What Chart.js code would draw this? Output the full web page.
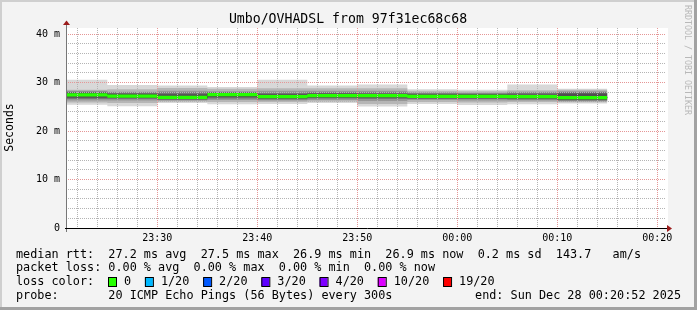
<!DOCTYPE html>
<html lang="en">
<head>
<meta charset="UTF-8">
<title>Umbo/OVHADSL from 97f31ec68c68</title>
<script src="https://cdn.jsdelivr.net/npm/chart.js@4.4.1/dist/chart.umd.min.js"></script>
<style>
    html, body { margin: 0; padding: 0; background: #f3f3f3; }
    #wrap { width: 697px; height: 310px; }
</style>
</head>
<body>
<div id="wrap"><canvas id="smokeChart" width="697" height="310"></canvas></div>
<script>
// start of each 5 minute step
const slots = ['23:20', '23:25', '23:30', '23:35', '23:40', '23:45', '23:50', '23:55', '00:00', '00:05', '00:10'];
// median rtt per step (ms)
const median = [27.45, 27.2, 26.95, 27.5, 27.1, 27.3, 27.3, 27.15, 27.15, 27.1, 26.9];
// smoke bands, outermost (min/max ping) to innermost (ms)
const band1Lo = [25.4, 25.1, 25.8, 25.5, 25.6, 25.8, 25.05, 25.6, 25.35, 25.5, 25.7];
const band1Hi = [30.6, 29.5, 29.4, 29.1, 30.6, 29.4, 29.6, 28.6, 28.5, 29.6, 28.7];
const band2Lo = [25.9, 25.8, 26.1, 26.0, 26.0, 26.1, 25.6, 26.0, 25.9, 26.0, 25.95];
const band2Hi = [28.5, 28.6, 28.9, 28.7, 28.8, 28.8, 28.8, 28.3, 28.2, 28.4, 28.5];
const band3Lo = [26.3, 26.3, 26.3, 26.4, 26.3, 26.4, 26.2, 26.4, 26.3, 26.3, 26.1];
const band3Hi = [28.3, 28.1, 28.3, 28.2, 28.3, 28.3, 28.3, 28.0, 27.9, 28.1, 28.2];
const band4Lo = [26.6, 26.6, 26.45, 26.7, 26.5, 26.7, 26.6, 26.6, 26.6, 26.5, 26.3];
const band4Hi = [28.1, 27.95, 28.0, 28.05, 27.9, 28.0, 28.0, 27.8, 27.75, 27.9, 28.05];
const band5Lo = [26.85, 26.8, 26.55, 26.95, 26.7, 26.85, 26.85, 26.75, 26.75, 26.7, 26.45];
const band5Hi = [27.95, 27.7, 27.6, 27.9, 27.6, 27.75, 27.7, 27.6, 27.6, 27.55, 27.75];

const xTickLabels = ['23:30', '23:40', '23:50', '00:00', '00:10', '00:20'];
const yTickValues = [0, 10, 20, 30, 40];
const yTickLabels = ['0', '10 m', '20 m', '30 m', '40 m'];

const lossLabels = ['0', '1/20', '2/20', '3/20', '4/20', '10/20', '19/20'];
const lossColors = ['#26ff00', '#00b8ff', '#0059ff', '#5e00ff', '#7e00ff', '#dd00ff', '#ff0000'];

const STEP_MIN = 5;
const END_TIME = '00:20:52';
const SPAN_MIN = 60;
const Y_MAX = 41.25;
const MEDIAN_HALF = 0.34;   // half thickness of the green median band (ms)
const FONT = '"DejaVu Sans Mono", monospace';
const MAJOR_GRID = '#e59696';
const MINOR_GRID = '#b4b4b4';

// minutes after 23:00
function toMin(t) {
    const p = t.split(':').map(Number);
    let h = p[0];
    if (h < 12) h += 24;
    return (h - 23) * 60 + p[1] + (p[2] || 0) / 60;
}

const xs = slots.map(toMin);
const xMax = toMin(END_TIME);
const xMin = xMax - SPAN_MIN;
const xMajor = xTickLabels.map(toMin);
const isMajorX = v => xMajor.some(m => Math.abs(m - v) < 1e-6);

function steps(arr) {
    const pts = arr.map((v, i) => ({ x: xs[i], y: v }));
    pts.push({ x: xs[xs.length - 1] + STEP_MIN, y: arr[arr.length - 1] });
    return pts;
}

const hidden = { borderColor: 'transparent', borderWidth: 0, pointRadius: 0, stepped: true, fill: false };

const smokeShades = ['#d8d8d8', '#b6b6b6', '#969696', '#747474', '#4f4f4f'];
const bands = [[band1Lo, band1Hi], [band2Lo, band2Hi], [band3Lo, band3Hi], [band4Lo, band4Hi], [band5Lo, band5Hi]];

const datasets = [];
bands.forEach(([lo, hi], i) => {
    datasets.push({ ...hidden, data: steps(lo), order: 20 - 2 * i });
    datasets.push({ ...hidden, data: steps(hi), order: 20 - 2 * i, fill: '-1', backgroundColor: smokeShades[i] });
});
// thin dark median line, visible at the steps
datasets.push({ data: steps(median), order: 5, stepped: true, pointRadius: 0, borderColor: '#202020', borderWidth: 1, fill: false });
// green median band (loss 0)
datasets.push({ ...hidden, data: steps(median.map(v => v - MEDIAN_HALF)), order: 2 });
datasets.push({ ...hidden, data: steps(median.map(v => v + MEDIAN_HALF)), order: 2, fill: '-1', backgroundColor: lossColors[0] });

const xGrid = [];
for (let v = Math.ceil(xMin / 2) * 2; v <= xMax; v += 2) xGrid.push(v);
const yGrid = [];
for (let v = 0; v <= 40; v += 2) yGrid.push(v);

const frame = {
    id: 'frame',
    beforeDraw(chart) {
        const { ctx, chartArea: a } = chart;
        ctx.save();
        ctx.fillStyle = '#f3f3f3';
        ctx.fillRect(0, 0, 697, 310);
        ctx.fillStyle = '#cfcfcf';
        ctx.fillRect(0, 0, 697, 2);
        ctx.fillRect(0, 0, 2, 310);
        ctx.fillStyle = '#a2a2a2';
        ctx.fillRect(694, 0, 3, 310);
        ctx.fillRect(0, 307, 697, 3);
        ctx.fillStyle = '#ffffff';
        ctx.fillRect(a.left, a.top, a.right - a.left + 2, a.bottom - a.top);
        ctx.restore();
    },
    afterDatasetsDraw(chart) {
        // dotted vertical grid at the x scale's ticks
        const { ctx, chartArea: a } = chart;
        const sx = chart.scales.x;
        ctx.save();
        sx.ticks.forEach(t => {
            const px = Math.round(sx.getPixelForValue(t.value));
            if (px <= a.left) return;
            ctx.fillStyle = isMajorX(t.value) ? MAJOR_GRID : MINOR_GRID;
            for (let y = Math.round(a.top); y < a.bottom; y += 2) ctx.fillRect(px, y, 1, 1);
        });
        ctx.restore();
    },
    afterDraw(chart) {
        const { ctx, chartArea: a } = chart;
        ctx.save();
        // axes
        ctx.lineWidth = 1;
        ctx.strokeStyle = '#777777';
        ctx.beginPath();
        ctx.moveTo(a.left + 0.5, a.bottom + 4);
        ctx.lineTo(a.left + 0.5, a.top - 4);
        ctx.stroke();
        ctx.strokeStyle = '#000000';
        ctx.beginPath();
        ctx.moveTo(a.left - 1, a.bottom + 0.5);
        ctx.lineTo(a.right + 4, a.bottom + 0.5);
        ctx.stroke();
        ctx.fillStyle = '#9b1c1c';
        ctx.beginPath();
        ctx.moveTo(a.left - 3, a.top - 3);
        ctx.lineTo(a.left + 4, a.top - 3);
        ctx.lineTo(a.left + 0.5, a.top - 7.5);
        ctx.closePath();
        ctx.fill();
        ctx.beginPath();
        ctx.moveTo(a.right + 1, a.bottom - 3);
        ctx.lineTo(a.right + 1, a.bottom + 4);
        ctx.lineTo(a.right + 6, a.bottom + 0.5);
        ctx.closePath();
        ctx.fill();

        // title
        ctx.fillStyle = '#000000';
        ctx.textBaseline = 'middle';
        ctx.textAlign = 'center';
        ctx.font = '13.2px ' + FONT;
        ctx.fillText('Umbo/OVHADSL from 97f31ec68c68', 348, 19.5);

        // y axis title
        ctx.save();
        ctx.translate(10.5, 127.5);
        ctx.rotate(-Math.PI / 2);
        ctx.font = '11.5px ' + FONT;
        ctx.fillText('Seconds', 0, 0);
        ctx.restore();

        // watermark
        ctx.save();
        ctx.translate(687.5, 60);
        ctx.rotate(Math.PI / 2);
        ctx.fillStyle = '#b8b8b8';
        ctx.font = '8.3px ' + FONT;
        ctx.fillText('RRDTOOL / TOBI OETIKER', 0, 0);
        ctx.restore();

        // legend
        ctx.textAlign = 'left';
        ctx.font = '11.8px ' + FONT;
        ctx.fillStyle = '#000000';
        ctx.fillText('median rtt:  27.2 ms avg  27.5 ms max  26.9 ms min  26.9 ms now  0.2 ms sd  143.7   am/s', 16, 254.5);
        ctx.fillText('packet loss: 0.00 % avg  0.00 % max  0.00 % min  0.00 % now', 16, 268);
        ctx.fillText('loss color:', 16, 282);
        ctx.fillText('probe:       20 ICMP Echo Pings (56 Bytes) every 300s', 16, 296);
        ctx.textAlign = 'right';
        ctx.fillText('end: Sun Dec 28 00:20:52 2025', 681, 296);
        ctx.textAlign = 'left';
        let x = 108;
        lossLabels.forEach((lab, i) => {
            ctx.fillStyle = lossColors[i];
            ctx.fillRect(x, 278, 8, 8);
            ctx.strokeStyle = '#000000';
            ctx.strokeRect(x + 0.5, 277.5, 8, 9);
            ctx.fillStyle = '#000000';
            ctx.fillText(lab, x + 16, 282);
            x += 16 + ctx.measureText(lab).width + 13.8;
        });
        ctx.restore();
    }
};

Chart.defaults.font.family = FONT;

new Chart(document.getElementById('smokeChart'), {
    type: 'line',
    data: { datasets },
    options: {
        responsive: false,
        animation: false,
        devicePixelRatio: 1,
        layout: { padding: { top: 28, right: 31, bottom: 0, left: 0 } },
        plugins: { legend: { display: false }, title: { display: false }, tooltip: { enabled: false } },
        scales: {
            x: {
                type: 'linear',
                min: xMin,
                max: xMax,
                afterBuildTicks: s => { s.ticks = xGrid.map(v => ({ value: v })); },
                afterFit: s => { s.height = 82; },
                grid: { drawOnChartArea: false, drawTicks: false, color: 'transparent' },
                border: { display: false },
                ticks: {
                    autoSkip: false,
                    maxRotation: 0,
                    padding: 4,
                    color: '#000000',
                    font: { size: 10 },
                    callback: v => {
                        const k = xMajor.findIndex(m => Math.abs(m - v) < 1e-6);
                        return k >= 0 ? xTickLabels[k] : ' ';
                    }
                }
            },
            y: {
                min: 0,
                max: Y_MAX,
                afterBuildTicks: s => { s.ticks = yGrid.map(v => ({ value: v })); },
                afterFit: s => { s.width = 66; },
                grid: {
                    z: 1,
                    drawTicks: false,
                    lineWidth: 1,
                    color: c => (c.tick && yTickValues.includes(c.tick.value)) ? MAJOR_GRID : MINOR_GRID
                },
                border: { display: false, dash: [1, 1] },
                ticks: {
                    autoSkip: false,
                    padding: 6,
                    color: '#000000',
                    font: { size: 10 },
                    callback: v => {
                        const k = yTickValues.indexOf(v);
                        return k >= 0 ? yTickLabels[k] : ' ';
                    }
                }
            }
        }
    },
    plugins: [frame]
});
</script>
</body>
</html>
